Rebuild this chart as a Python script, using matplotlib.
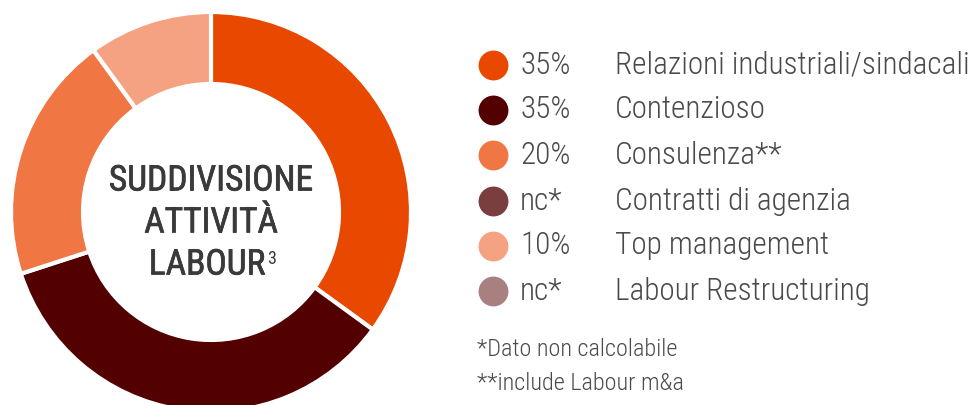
import matplotlib
matplotlib.use("Agg")
import matplotlib.pyplot as plt
import matplotlib.patheffects as pe
from matplotlib import font_manager

# Data
slice_values = [35, 35, 20, 10]
slice_colors = ["#E84800", "#520000", "#F07744", "#F4A281"]

legend_pcts = ["35%", "35%", "20%", "nc*", "10%", "nc*"]
legend_labels = ["Relazioni industriali/sindacali", "Contenzioso", "Consulenza**",
                 "Contratti di agenzia", "Top management", "Labour Restructuring"]
legend_colors = ["#E84800", "#520000", "#F07744", "#7B3E3E", "#F4A281", "#A98080"]

center_lines = ["SUDDIVISIONE", "ATTIVITÀ", "LABOUR"]
center_sup = "3"
footnotes = ["*Dato non calcolabile", "**include Labour m&a"]

names = {f.name for f in font_manager.fontManager.ttflist}
FONT = [n for n in ["Liberation Sans Narrow", "Roboto Condensed", "Roboto", "DejaVu Sans"] if n in names]

TEXT = "#4A4A4A"
TITLE = "#3A3A3A"
W, H = 976, 405
fig = plt.figure(figsize=(W / 100, H / 100), dpi=100)
ax = fig.add_axes([0, 0, 1, 1])


def py(y):
    return H - y


cx, cy, R, ring = 211, py(212), 200, 72
ax.pie(slice_values, colors=slice_colors, startangle=90, counterclock=False,
       center=(cx, cy), radius=R, frame=True,
       wedgeprops=dict(width=ring, edgecolor="white", linewidth=3))
ax.set_xlim(0, W)
ax.set_ylim(0, H)
ax.set_aspect("equal")
ax.axis("off")

# Centre title (slightly thickened regular weight)
thick = [pe.withStroke(linewidth=0.5, foreground=TITLE)]
line_y = [181, 223, 265]
texts = []
for s, y in zip(center_lines, line_y):
    t = ax.text(cx - (4 if s == "LABOUR" else 0), py(y), s, ha="center", va="center",
                fontsize=25.5, color=TITLE, family=FONT, fontweight="normal",
                path_effects=thick)
    texts.append(t)
fig.canvas.draw()
bb = texts[-1].get_window_extent().transformed(ax.transData.inverted())
ax.text(bb.x1 + 2, bb.y1 - 1, center_sup, ha="left", va="top",
        fontsize=13, color=TITLE, family=FONT, fontweight="normal")

# Legend
row_y = [65, 110, 155, 201, 246, 291]
for y, p, lab, c in zip(row_y, legend_pcts, legend_labels, legend_colors):
    ax.scatter([493], [py(y)], s=29 ** 2 * 0.55, color=c, zorder=3, linewidths=0)
    ax.text(520, py(y), p, ha="left", va="center", fontsize=22.5, color=TEXT,
            family=FONT, fontweight="light")
    ax.text(615, py(y), lab, ha="left", va="center", fontsize=22.5, color=TEXT,
            family=FONT, fontweight="light")

for y, s in zip([350, 383], footnotes):
    ax.text(477, py(y), s, ha="left", va="center", fontsize=17.5, color=TEXT,
            family=FONT, fontweight="light")

fig.savefig("out.png", dpi=100)
